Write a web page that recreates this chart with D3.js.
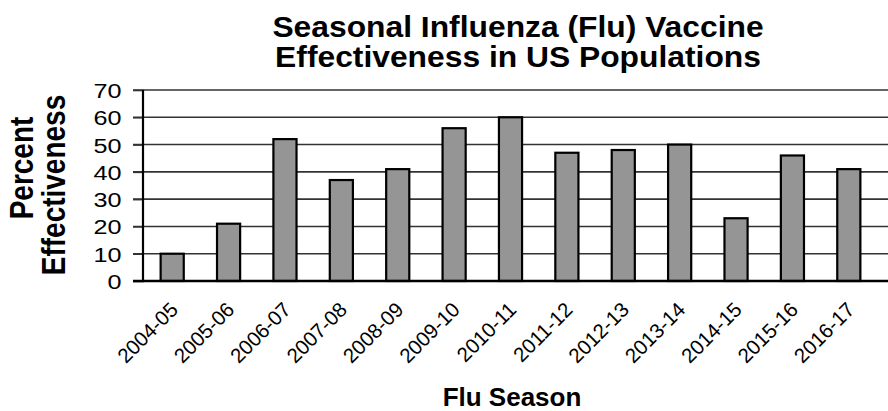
<!DOCTYPE html>
<html><head><meta charset="utf-8">
<script src="https://cdn.jsdelivr.net/npm/d3@7"></script>
<style>body{margin:0;background:#fff}svg{display:block}text{font-family:"Liberation Sans",Arial,Helvetica,sans-serif;fill:#000}</style>
</head><body><svg id="c" width="888" height="411"></svg>
<script>
const seasons = ["2004-05","2005-06","2006-07","2007-08","2008-09","2009-10","2010-11","2011-12","2012-13","2013-14","2014-15","2015-16","2016-17"];
const effectiveness = [10,21,52,37,41,56,60,47,48,50,23,46,41];
const yTicks = [0,10,20,30,40,50,60,70];
const titleLines = ["Seasonal Influenza (Flu) Vaccine","Effectiveness in US Populations"];
const yTitleLines = ["Percent","Effectiveness"];
const xTitle = "Flu Season";

(function(){
const svg = d3.select("#c");
const pL = 144, pR = 877, pT = 90, pB = 281;
const x = d3.scaleBand().domain(seasons).range([pL, pR]).paddingInner(0.59).paddingOuter(0.295);
const y = d3.scaleLinear().domain([0,70]).range([pB, pT]);

// gridlines
svg.append("g").selectAll("line").data(yTicks.filter(d=>d>0)).join("line")
  .attr("x1", pL-11).attr("x2", 888).attr("y1", d=>y(d)).attr("y2", d=>y(d))
  .attr("stroke", "#333").attr("stroke-width", 1.6);

// y axis
const yAxis = d3.axisLeft(y).tickValues(yTicks).tickSize(11).tickPadding(0);
const gy = svg.append("g").attr("transform", `translate(${pL},0)`).call(yAxis);
gy.select(".domain").remove();
gy.selectAll(".tick line").attr("stroke", "#333").attr("stroke-width", 1.6);
gy.selectAll(".tick text").style("font-size", "21px").attr("fill","#000").attr("x",0).attr("dy","0.36em")
  .attr("text-anchor","end").attr("transform","translate(-22.5,0) scale(1.2,1)");

// bars
svg.append("g").selectAll("rect").data(seasons).join("rect")
  .attr("x", d=>x(d)).attr("width", x.bandwidth())
  .attr("y", (d,i)=>y(effectiveness[i])).attr("height", (d,i)=>pB - y(effectiveness[i]))
  .attr("fill", "#959595").attr("stroke", "#000").attr("stroke-width", 2.2);

// axis lines
svg.append("line").attr("x1", pL-1).attr("x2", pL-1).attr("y1", pT).attr("y2", pB+1)
  .attr("stroke","#000").attr("stroke-width",2.2);
svg.append("line").attr("x1", pL-11).attr("x2", 888).attr("y1", pB).attr("y2", pB)
  .attr("stroke","#000").attr("stroke-width",2.4);

// x labels
const xAxis = d3.axisBottom(x).tickSize(0).tickPadding(0);
const gx = svg.append("g").attr("transform", `translate(0,${pB})`).call(xAxis);
gx.select(".domain").remove();
gx.selectAll(".tick text").style("font-size","20.5px").attr("text-anchor","end")
  .attr("fill","#000").attr("dy","0").attr("y",0)
  .attr("transform","translate(7,30) rotate(-45)");

// titles
svg.append("g").attr("transform","translate(518,0) scale(1.06,1)")
  .append("text").attr("text-anchor","middle").style("font-size","30px").style("font-weight","bold")
  .selectAll("tspan").data(titleLines).join("tspan").attr("x",0).attr("y",(d,i)=>37+i*30).text(d=>d);

const yCenters = [168, 185];
const yBase = [33, 65];
svg.append("g").selectAll("text").data(yTitleLines).join("text")
  .attr("transform",(d,i)=>`translate(${yBase[i]},${yCenters[i]}) rotate(-90) scale(1,1.2)`)
  .attr("text-anchor","middle").style("font-size","28px").style("font-weight","bold").text(d=>d);

svg.append("text").attr("x", 512).attr("y", 406).attr("text-anchor","middle")
  .style("font-size","26px").style("font-weight","bold").text(xTitle);
})();
</script></body></html>
